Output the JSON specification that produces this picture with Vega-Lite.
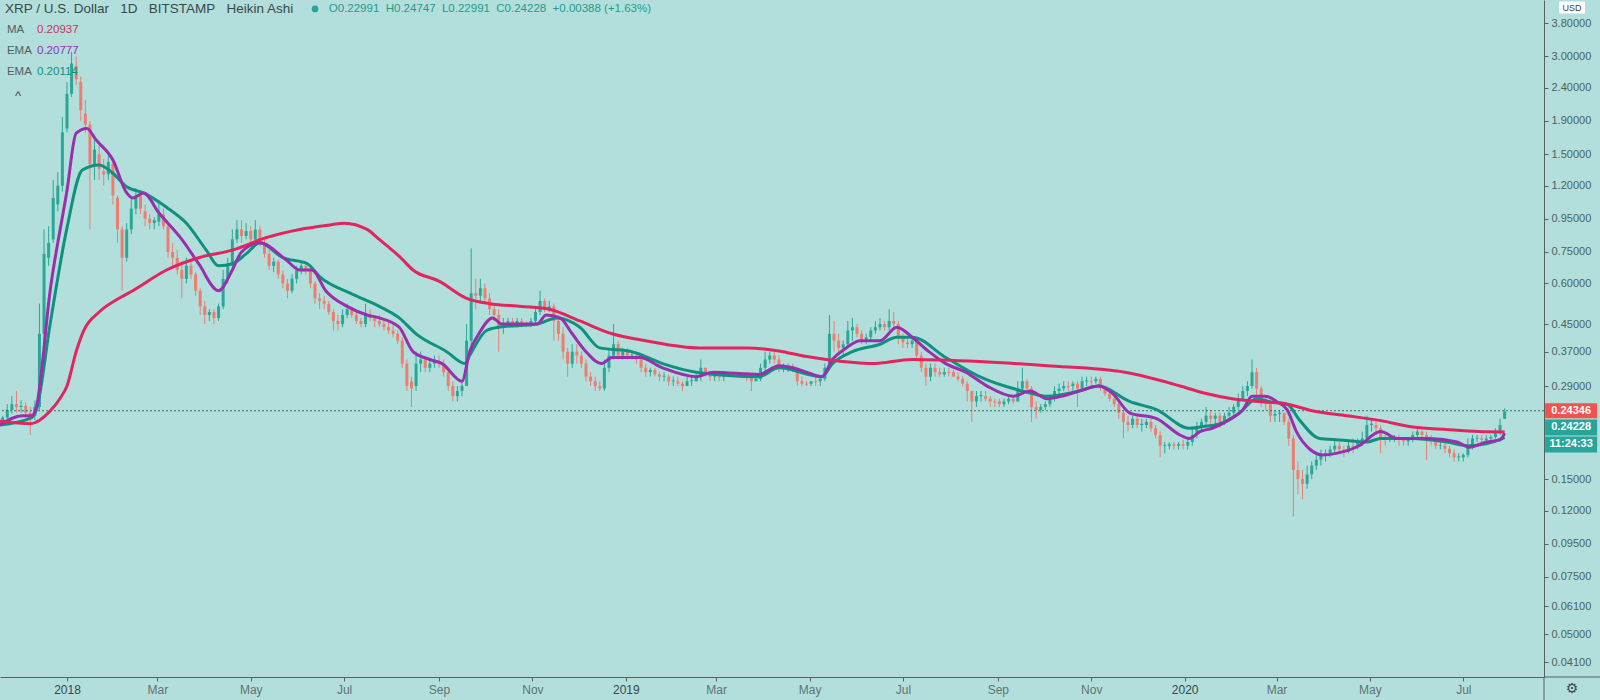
{
  "$schema": "https://vega.github.io/schema/vega-lite/v6.json",
  "description": "XRP / U.S. Dollar, 1D, Bitstamp, Heikin Ashi candles with MA and two EMAs (log price scale)",
  "width": 1544,
  "height": 677,
  "autosize": {"type": "none"},
  "padding": {"left": 0, "top": 0, "right": 56, "bottom": 23},
  "background": "#b2dfdb",
  "config": {"view": {"stroke": null}, "font": "Liberation Sans", "axis": {"grid": false}},
  "resolve": {"axis": {"x": "independent", "y": "independent"}},
  "datasets": {
    "candles": [
      {"d":"2017-11-20","o":0.225,"h":0.235,"l":0.22,"c":0.232},
      {"d":"2017-11-23","o":0.232,"h":0.255,"l":0.228,"c":0.245},
      {"d":"2017-11-26","o":0.245,"h":0.27,"l":0.238,"c":0.255},
      {"d":"2017-11-29","o":0.255,"h":0.28,"l":0.24,"c":0.25},
      {"d":"2017-12-02","o":0.25,"h":0.262,"l":0.24,"c":0.252},
      {"d":"2017-12-05","o":0.252,"h":0.258,"l":0.232,"c":0.24},
      {"d":"2017-12-08","o":0.24,"h":0.25,"l":0.205,"c":0.235},
      {"d":"2017-12-11","o":0.235,"h":0.262,"l":0.228,"c":0.25},
      {"d":"2017-12-14","o":0.25,"h":0.52,"l":0.245,"c":0.42},
      {"d":"2017-12-17","o":0.42,"h":0.88,"l":0.4,"c":0.74},
      {"d":"2017-12-20","o":0.72,"h":0.9,"l":0.68,"c":0.8},
      {"d":"2017-12-23","o":0.82,"h":1.25,"l":0.8,"c":1.1},
      {"d":"2017-12-26","o":1.05,"h":1.32,"l":1.0,"c":1.2},
      {"d":"2017-12-29","o":1.2,"h":1.95,"l":1.15,"c":1.75},
      {"d":"2018-01-01","o":1.8,"h":2.5,"l":1.75,"c":2.3},
      {"d":"2018-01-04","o":2.3,"h":3.1,"l":2.25,"c":2.85},
      {"d":"2018-01-07","o":2.8,"h":3.0,"l":2.45,"c":2.55},
      {"d":"2018-01-10","o":2.5,"h":2.6,"l":1.9,"c":2.05},
      {"d":"2018-01-13","o":2.0,"h":2.2,"l":1.75,"c":1.85},
      {"d":"2018-01-16","o":1.85,"h":1.9,"l":0.88,"c":1.4},
      {"d":"2018-01-19","o":1.4,"h":1.7,"l":1.25,"c":1.55},
      {"d":"2018-01-22","o":1.5,"h":1.65,"l":1.25,"c":1.35},
      {"d":"2018-01-25","o":1.33,"h":1.45,"l":1.2,"c":1.3},
      {"d":"2018-01-28","o":1.3,"h":1.5,"l":1.25,"c":1.42},
      {"d":"2018-01-31","o":1.4,"h":1.42,"l":1.05,"c":1.12},
      {"d":"2018-02-03","o":1.1,"h":1.12,"l":0.8,"c":0.88},
      {"d":"2018-02-06","o":0.88,"h":0.9,"l":0.57,"c":0.72},
      {"d":"2018-02-09","o":0.72,"h":0.92,"l":0.7,"c":0.88},
      {"d":"2018-02-12","o":0.88,"h":1.1,"l":0.85,"c":1.02},
      {"d":"2018-02-15","o":1.02,"h":1.18,"l":0.98,"c":1.12},
      {"d":"2018-02-18","o":1.12,"h":1.16,"l":0.98,"c":1.02},
      {"d":"2018-02-21","o":1.0,"h":1.05,"l":0.9,"c":0.95},
      {"d":"2018-02-24","o":0.95,"h":0.98,"l":0.88,"c":0.92},
      {"d":"2018-02-27","o":0.92,"h":0.96,"l":0.88,"c":0.94},
      {"d":"2018-03-02","o":0.93,"h":1.08,"l":0.9,"c":0.98},
      {"d":"2018-03-05","o":0.98,"h":1.02,"l":0.88,"c":0.9},
      {"d":"2018-03-08","o":0.9,"h":0.92,"l":0.72,"c":0.75},
      {"d":"2018-03-11","o":0.75,"h":0.8,"l":0.68,"c":0.72},
      {"d":"2018-03-14","o":0.72,"h":0.76,"l":0.64,"c":0.66},
      {"d":"2018-03-17","o":0.66,"h":0.7,"l":0.54,"c":0.62},
      {"d":"2018-03-20","o":0.62,"h":0.72,"l":0.6,"c":0.68},
      {"d":"2018-03-23","o":0.68,"h":0.7,"l":0.62,"c":0.64},
      {"d":"2018-03-26","o":0.64,"h":0.65,"l":0.55,"c":0.57},
      {"d":"2018-03-29","o":0.57,"h":0.58,"l":0.48,"c":0.51},
      {"d":"2018-04-01","o":0.51,"h":0.53,"l":0.45,"c":0.48},
      {"d":"2018-04-04","o":0.48,"h":0.5,"l":0.46,"c":0.49},
      {"d":"2018-04-07","o":0.49,"h":0.5,"l":0.45,"c":0.47},
      {"d":"2018-04-10","o":0.47,"h":0.52,"l":0.46,"c":0.51},
      {"d":"2018-04-13","o":0.51,"h":0.66,"l":0.5,"c":0.62},
      {"d":"2018-04-16","o":0.62,"h":0.72,"l":0.6,"c":0.68},
      {"d":"2018-04-19","o":0.68,"h":0.88,"l":0.66,"c":0.82},
      {"d":"2018-04-22","o":0.82,"h":0.94,"l":0.8,"c":0.88},
      {"d":"2018-04-25","o":0.88,"h":0.94,"l":0.8,"c":0.84},
      {"d":"2018-04-28","o":0.84,"h":0.92,"l":0.82,"c":0.87},
      {"d":"2018-05-01","o":0.87,"h":0.9,"l":0.8,"c":0.82},
      {"d":"2018-05-04","o":0.82,"h":0.94,"l":0.8,"c":0.88},
      {"d":"2018-05-07","o":0.88,"h":0.9,"l":0.78,"c":0.8},
      {"d":"2018-05-10","o":0.8,"h":0.82,"l":0.72,"c":0.74},
      {"d":"2018-05-13","o":0.74,"h":0.76,"l":0.66,"c":0.68},
      {"d":"2018-05-16","o":0.68,"h":0.72,"l":0.65,"c":0.7},
      {"d":"2018-05-19","o":0.7,"h":0.71,"l":0.62,"c":0.64},
      {"d":"2018-05-22","o":0.64,"h":0.66,"l":0.58,"c":0.6},
      {"d":"2018-05-25","o":0.6,"h":0.62,"l":0.54,"c":0.57},
      {"d":"2018-05-28","o":0.57,"h":0.64,"l":0.56,"c":0.62},
      {"d":"2018-05-31","o":0.62,"h":0.68,"l":0.6,"c":0.66},
      {"d":"2018-06-03","o":0.66,"h":0.7,"l":0.64,"c":0.68},
      {"d":"2018-06-06","o":0.68,"h":0.69,"l":0.64,"c":0.66},
      {"d":"2018-06-09","o":0.66,"h":0.67,"l":0.58,"c":0.6},
      {"d":"2018-06-12","o":0.6,"h":0.61,"l":0.52,"c":0.54},
      {"d":"2018-06-15","o":0.54,"h":0.56,"l":0.5,"c":0.53},
      {"d":"2018-06-18","o":0.53,"h":0.55,"l":0.5,"c":0.52},
      {"d":"2018-06-21","o":0.52,"h":0.53,"l":0.48,"c":0.49},
      {"d":"2018-06-24","o":0.49,"h":0.5,"l":0.43,"c":0.46},
      {"d":"2018-06-27","o":0.46,"h":0.48,"l":0.43,"c":0.45},
      {"d":"2018-06-30","o":0.45,"h":0.5,"l":0.44,"c":0.48},
      {"d":"2018-07-03","o":0.48,"h":0.52,"l":0.47,"c":0.5},
      {"d":"2018-07-06","o":0.5,"h":0.51,"l":0.47,"c":0.48},
      {"d":"2018-07-09","o":0.48,"h":0.49,"l":0.45,"c":0.46},
      {"d":"2018-07-12","o":0.46,"h":0.47,"l":0.44,"c":0.45},
      {"d":"2018-07-15","o":0.45,"h":0.52,"l":0.44,"c":0.48},
      {"d":"2018-07-18","o":0.48,"h":0.5,"l":0.46,"c":0.47},
      {"d":"2018-07-21","o":0.47,"h":0.48,"l":0.44,"c":0.46},
      {"d":"2018-07-24","o":0.46,"h":0.48,"l":0.44,"c":0.45},
      {"d":"2018-07-27","o":0.45,"h":0.46,"l":0.43,"c":0.44},
      {"d":"2018-07-30","o":0.44,"h":0.46,"l":0.42,"c":0.43},
      {"d":"2018-08-02","o":0.43,"h":0.45,"l":0.41,"c":0.42},
      {"d":"2018-08-05","o":0.42,"h":0.43,"l":0.39,"c":0.4},
      {"d":"2018-08-08","o":0.4,"h":0.41,"l":0.33,"c":0.34},
      {"d":"2018-08-11","o":0.34,"h":0.35,"l":0.28,"c":0.29},
      {"d":"2018-08-14","o":0.3,"h":0.31,"l":0.25,"c":0.285},
      {"d":"2018-08-17","o":0.29,"h":0.37,"l":0.28,"c":0.34},
      {"d":"2018-08-20","o":0.34,"h":0.37,"l":0.32,"c":0.35},
      {"d":"2018-08-23","o":0.35,"h":0.36,"l":0.32,"c":0.33},
      {"d":"2018-08-26","o":0.33,"h":0.35,"l":0.32,"c":0.34},
      {"d":"2018-08-29","o":0.34,"h":0.36,"l":0.33,"c":0.345},
      {"d":"2018-09-01","o":0.345,"h":0.36,"l":0.33,"c":0.34},
      {"d":"2018-09-04","o":0.34,"h":0.35,"l":0.31,"c":0.32},
      {"d":"2018-09-07","o":0.32,"h":0.33,"l":0.28,"c":0.29},
      {"d":"2018-09-10","o":0.29,"h":0.3,"l":0.26,"c":0.27},
      {"d":"2018-09-13","o":0.27,"h":0.29,"l":0.26,"c":0.28},
      {"d":"2018-09-16","o":0.28,"h":0.3,"l":0.27,"c":0.29},
      {"d":"2018-09-19","o":0.29,"h":0.45,"l":0.29,"c":0.4},
      {"d":"2018-09-22","o":0.4,"h":0.77,"l":0.38,"c":0.56},
      {"d":"2018-09-25","o":0.56,"h":0.62,"l":0.5,"c":0.55},
      {"d":"2018-09-28","o":0.55,"h":0.62,"l":0.52,"c":0.58},
      {"d":"2018-10-01","o":0.58,"h":0.6,"l":0.52,"c":0.54},
      {"d":"2018-10-04","o":0.54,"h":0.56,"l":0.48,"c":0.5},
      {"d":"2018-10-07","o":0.5,"h":0.52,"l":0.46,"c":0.48},
      {"d":"2018-10-10","o":0.48,"h":0.5,"l":0.37,"c":0.44},
      {"d":"2018-10-13","o":0.44,"h":0.47,"l":0.42,"c":0.45},
      {"d":"2018-10-16","o":0.45,"h":0.47,"l":0.44,"c":0.46},
      {"d":"2018-10-19","o":0.46,"h":0.47,"l":0.44,"c":0.45},
      {"d":"2018-10-22","o":0.45,"h":0.47,"l":0.44,"c":0.46},
      {"d":"2018-10-25","o":0.46,"h":0.47,"l":0.44,"c":0.45},
      {"d":"2018-10-28","o":0.45,"h":0.46,"l":0.44,"c":0.448},
      {"d":"2018-10-31","o":0.45,"h":0.47,"l":0.44,"c":0.46},
      {"d":"2018-11-03","o":0.46,"h":0.5,"l":0.45,"c":0.49},
      {"d":"2018-11-06","o":0.49,"h":0.57,"l":0.48,"c":0.53},
      {"d":"2018-11-09","o":0.53,"h":0.54,"l":0.49,"c":0.5},
      {"d":"2018-11-12","o":0.5,"h":0.53,"l":0.49,"c":0.51},
      {"d":"2018-11-15","o":0.51,"h":0.52,"l":0.4,"c":0.46},
      {"d":"2018-11-18","o":0.46,"h":0.48,"l":0.4,"c":0.42},
      {"d":"2018-11-21","o":0.42,"h":0.44,"l":0.35,"c":0.37},
      {"d":"2018-11-24","o":0.37,"h":0.38,"l":0.31,"c":0.34},
      {"d":"2018-11-27","o":0.34,"h":0.39,"l":0.33,"c":0.37},
      {"d":"2018-11-30","o":0.37,"h":0.39,"l":0.34,"c":0.36},
      {"d":"2018-12-03","o":0.36,"h":0.37,"l":0.33,"c":0.34},
      {"d":"2018-12-06","o":0.34,"h":0.35,"l":0.3,"c":0.31},
      {"d":"2018-12-09","o":0.31,"h":0.32,"l":0.29,"c":0.3},
      {"d":"2018-12-12","o":0.3,"h":0.31,"l":0.28,"c":0.29},
      {"d":"2018-12-15","o":0.29,"h":0.3,"l":0.28,"c":0.285},
      {"d":"2018-12-18","o":0.285,"h":0.35,"l":0.28,"c":0.33},
      {"d":"2018-12-21","o":0.33,"h":0.38,"l":0.32,"c":0.36},
      {"d":"2018-12-24","o":0.36,"h":0.45,"l":0.35,"c":0.39},
      {"d":"2018-12-27","o":0.39,"h":0.4,"l":0.35,"c":0.36},
      {"d":"2018-12-30","o":0.36,"h":0.38,"l":0.35,"c":0.37},
      {"d":"2019-01-02","o":0.37,"h":0.38,"l":0.35,"c":0.36},
      {"d":"2019-01-05","o":0.36,"h":0.37,"l":0.35,"c":0.362},
      {"d":"2019-01-08","o":0.36,"h":0.37,"l":0.34,"c":0.35},
      {"d":"2019-01-11","o":0.35,"h":0.36,"l":0.32,"c":0.33},
      {"d":"2019-01-14","o":0.33,"h":0.34,"l":0.31,"c":0.32},
      {"d":"2019-01-17","o":0.32,"h":0.33,"l":0.31,"c":0.325},
      {"d":"2019-01-20","o":0.325,"h":0.33,"l":0.31,"c":0.315},
      {"d":"2019-01-23","o":0.315,"h":0.32,"l":0.3,"c":0.31},
      {"d":"2019-01-26","o":0.31,"h":0.32,"l":0.3,"c":0.312},
      {"d":"2019-01-29","o":0.31,"h":0.315,"l":0.29,"c":0.3},
      {"d":"2019-02-01","o":0.3,"h":0.31,"l":0.29,"c":0.302},
      {"d":"2019-02-04","o":0.3,"h":0.31,"l":0.29,"c":0.295},
      {"d":"2019-02-07","o":0.295,"h":0.3,"l":0.28,"c":0.29},
      {"d":"2019-02-10","o":0.29,"h":0.31,"l":0.29,"c":0.3},
      {"d":"2019-02-13","o":0.3,"h":0.31,"l":0.29,"c":0.302},
      {"d":"2019-02-16","o":0.3,"h":0.32,"l":0.3,"c":0.31},
      {"d":"2019-02-19","o":0.31,"h":0.35,"l":0.3,"c":0.33},
      {"d":"2019-02-22","o":0.33,"h":0.33,"l":0.31,"c":0.315},
      {"d":"2019-02-25","o":0.315,"h":0.32,"l":0.3,"c":0.31},
      {"d":"2019-02-28","o":0.31,"h":0.32,"l":0.3,"c":0.312},
      {"d":"2019-03-03","o":0.31,"h":0.32,"l":0.3,"c":0.308},
      {"d":"2019-03-06","o":0.31,"h":0.32,"l":0.3,"c":0.315},
      {"d":"2019-03-09","o":0.315,"h":0.32,"l":0.31,"c":0.316},
      {"d":"2019-03-12","o":0.315,"h":0.32,"l":0.31,"c":0.31},
      {"d":"2019-03-15","o":0.31,"h":0.32,"l":0.31,"c":0.315},
      {"d":"2019-03-18","o":0.315,"h":0.32,"l":0.31,"c":0.31},
      {"d":"2019-03-21","o":0.31,"h":0.32,"l":0.3,"c":0.308},
      {"d":"2019-03-24","o":0.31,"h":0.31,"l":0.28,"c":0.3},
      {"d":"2019-03-27","o":0.3,"h":0.31,"l":0.3,"c":0.305},
      {"d":"2019-03-30","o":0.305,"h":0.34,"l":0.3,"c":0.33},
      {"d":"2019-04-02","o":0.33,"h":0.37,"l":0.32,"c":0.35},
      {"d":"2019-04-05","o":0.35,"h":0.37,"l":0.34,"c":0.36},
      {"d":"2019-04-08","o":0.36,"h":0.37,"l":0.34,"c":0.35},
      {"d":"2019-04-11","o":0.35,"h":0.36,"l":0.32,"c":0.33},
      {"d":"2019-04-14","o":0.33,"h":0.34,"l":0.32,"c":0.332},
      {"d":"2019-04-17","o":0.33,"h":0.34,"l":0.32,"c":0.335},
      {"d":"2019-04-20","o":0.335,"h":0.34,"l":0.32,"c":0.325},
      {"d":"2019-04-23","o":0.325,"h":0.33,"l":0.29,"c":0.3},
      {"d":"2019-04-26","o":0.3,"h":0.31,"l":0.29,"c":0.295},
      {"d":"2019-04-29","o":0.295,"h":0.3,"l":0.29,"c":0.293},
      {"d":"2019-05-02","o":0.295,"h":0.3,"l":0.29,"c":0.3},
      {"d":"2019-05-05","o":0.3,"h":0.31,"l":0.29,"c":0.298},
      {"d":"2019-05-08","o":0.3,"h":0.31,"l":0.29,"c":0.305},
      {"d":"2019-05-11","o":0.305,"h":0.34,"l":0.3,"c":0.33},
      {"d":"2019-05-14","o":0.33,"h":0.48,"l":0.33,"c":0.42},
      {"d":"2019-05-17","o":0.42,"h":0.46,"l":0.37,"c":0.4},
      {"d":"2019-05-20","o":0.4,"h":0.42,"l":0.36,"c":0.38},
      {"d":"2019-05-23","o":0.38,"h":0.4,"l":0.36,"c":0.39},
      {"d":"2019-05-26","o":0.39,"h":0.46,"l":0.38,"c":0.43},
      {"d":"2019-05-29","o":0.43,"h":0.47,"l":0.4,"c":0.44},
      {"d":"2019-06-01","o":0.44,"h":0.45,"l":0.41,"c":0.42},
      {"d":"2019-06-04","o":0.42,"h":0.43,"l":0.39,"c":0.4},
      {"d":"2019-06-07","o":0.4,"h":0.42,"l":0.39,"c":0.41},
      {"d":"2019-06-10","o":0.41,"h":0.44,"l":0.4,"c":0.43},
      {"d":"2019-06-13","o":0.43,"h":0.46,"l":0.42,"c":0.44},
      {"d":"2019-06-16","o":0.44,"h":0.47,"l":0.43,"c":0.45},
      {"d":"2019-06-19","o":0.45,"h":0.46,"l":0.43,"c":0.44},
      {"d":"2019-06-22","o":0.44,"h":0.5,"l":0.43,"c":0.46},
      {"d":"2019-06-25","o":0.46,"h":0.49,"l":0.44,"c":0.45},
      {"d":"2019-06-28","o":0.45,"h":0.46,"l":0.39,"c":0.41},
      {"d":"2019-07-01","o":0.41,"h":0.42,"l":0.38,"c":0.395},
      {"d":"2019-07-04","o":0.395,"h":0.41,"l":0.38,"c":0.39},
      {"d":"2019-07-07","o":0.39,"h":0.41,"l":0.38,"c":0.4},
      {"d":"2019-07-10","o":0.4,"h":0.405,"l":0.35,"c":0.36},
      {"d":"2019-07-13","o":0.36,"h":0.37,"l":0.32,"c":0.33},
      {"d":"2019-07-16","o":0.33,"h":0.34,"l":0.29,"c":0.31},
      {"d":"2019-07-19","o":0.31,"h":0.34,"l":0.3,"c":0.33},
      {"d":"2019-07-22","o":0.33,"h":0.34,"l":0.31,"c":0.32},
      {"d":"2019-07-25","o":0.32,"h":0.33,"l":0.31,"c":0.315},
      {"d":"2019-07-28","o":0.315,"h":0.33,"l":0.31,"c":0.32},
      {"d":"2019-07-31","o":0.32,"h":0.33,"l":0.31,"c":0.318},
      {"d":"2019-08-03","o":0.32,"h":0.325,"l":0.31,"c":0.31},
      {"d":"2019-08-06","o":0.31,"h":0.32,"l":0.3,"c":0.305},
      {"d":"2019-08-09","o":0.305,"h":0.31,"l":0.29,"c":0.295},
      {"d":"2019-08-12","o":0.295,"h":0.3,"l":0.26,"c":0.28},
      {"d":"2019-08-15","o":0.28,"h":0.28,"l":0.225,"c":0.26},
      {"d":"2019-08-18","o":0.26,"h":0.28,"l":0.25,"c":0.27},
      {"d":"2019-08-21","o":0.27,"h":0.28,"l":0.26,"c":0.272},
      {"d":"2019-08-24","o":0.27,"h":0.28,"l":0.26,"c":0.265},
      {"d":"2019-08-27","o":0.265,"h":0.27,"l":0.25,"c":0.26},
      {"d":"2019-08-30","o":0.26,"h":0.265,"l":0.25,"c":0.258},
      {"d":"2019-09-02","o":0.26,"h":0.265,"l":0.25,"c":0.255},
      {"d":"2019-09-05","o":0.255,"h":0.265,"l":0.25,"c":0.26},
      {"d":"2019-09-08","o":0.26,"h":0.27,"l":0.255,"c":0.265},
      {"d":"2019-09-11","o":0.265,"h":0.27,"l":0.255,"c":0.26},
      {"d":"2019-09-14","o":0.26,"h":0.3,"l":0.26,"c":0.285},
      {"d":"2019-09-17","o":0.285,"h":0.33,"l":0.28,"c":0.3},
      {"d":"2019-09-20","o":0.3,"h":0.305,"l":0.28,"c":0.285},
      {"d":"2019-09-23","o":0.285,"h":0.29,"l":0.225,"c":0.25},
      {"d":"2019-09-26","o":0.25,"h":0.26,"l":0.23,"c":0.245},
      {"d":"2019-09-29","o":0.245,"h":0.255,"l":0.24,"c":0.25},
      {"d":"2019-10-02","o":0.25,"h":0.26,"l":0.245,"c":0.255},
      {"d":"2019-10-05","o":0.255,"h":0.27,"l":0.25,"c":0.265},
      {"d":"2019-10-08","o":0.265,"h":0.29,"l":0.26,"c":0.28},
      {"d":"2019-10-11","o":0.28,"h":0.295,"l":0.27,"c":0.285},
      {"d":"2019-10-14","o":0.285,"h":0.3,"l":0.28,"c":0.29},
      {"d":"2019-10-17","o":0.29,"h":0.3,"l":0.28,"c":0.288},
      {"d":"2019-10-20","o":0.29,"h":0.3,"l":0.28,"c":0.295},
      {"d":"2019-10-23","o":0.295,"h":0.3,"l":0.25,"c":0.285},
      {"d":"2019-10-26","o":0.285,"h":0.31,"l":0.28,"c":0.3},
      {"d":"2019-10-29","o":0.3,"h":0.31,"l":0.29,"c":0.302},
      {"d":"2019-11-01","o":0.3,"h":0.31,"l":0.29,"c":0.298},
      {"d":"2019-11-04","o":0.3,"h":0.31,"l":0.295,"c":0.305},
      {"d":"2019-11-07","o":0.305,"h":0.31,"l":0.28,"c":0.29},
      {"d":"2019-11-10","o":0.29,"h":0.29,"l":0.27,"c":0.275},
      {"d":"2019-11-13","o":0.275,"h":0.28,"l":0.26,"c":0.265},
      {"d":"2019-11-16","o":0.265,"h":0.27,"l":0.25,"c":0.255},
      {"d":"2019-11-19","o":0.255,"h":0.26,"l":0.23,"c":0.24},
      {"d":"2019-11-22","o":0.24,"h":0.245,"l":0.2,"c":0.225},
      {"d":"2019-11-25","o":0.225,"h":0.235,"l":0.21,"c":0.22},
      {"d":"2019-11-28","o":0.22,"h":0.235,"l":0.215,"c":0.23},
      {"d":"2019-12-01","o":0.23,"h":0.235,"l":0.215,"c":0.22},
      {"d":"2019-12-04","o":0.22,"h":0.23,"l":0.21,"c":0.222},
      {"d":"2019-12-07","o":0.22,"h":0.23,"l":0.215,"c":0.225},
      {"d":"2019-12-10","o":0.225,"h":0.23,"l":0.21,"c":0.215},
      {"d":"2019-12-13","o":0.215,"h":0.22,"l":0.2,"c":0.205},
      {"d":"2019-12-16","o":0.205,"h":0.21,"l":0.175,"c":0.19},
      {"d":"2019-12-19","o":0.19,"h":0.195,"l":0.18,"c":0.191},
      {"d":"2019-12-22","o":0.19,"h":0.195,"l":0.185,"c":0.192},
      {"d":"2019-12-25","o":0.192,"h":0.195,"l":0.185,"c":0.19},
      {"d":"2019-12-28","o":0.19,"h":0.195,"l":0.185,"c":0.192},
      {"d":"2019-12-31","o":0.192,"h":0.198,"l":0.185,"c":0.19},
      {"d":"2020-01-03","o":0.19,"h":0.2,"l":0.185,"c":0.195},
      {"d":"2020-01-06","o":0.195,"h":0.215,"l":0.19,"c":0.205},
      {"d":"2020-01-09","o":0.205,"h":0.225,"l":0.2,"c":0.215},
      {"d":"2020-01-12","o":0.215,"h":0.23,"l":0.21,"c":0.225},
      {"d":"2020-01-15","o":0.225,"h":0.25,"l":0.22,"c":0.235},
      {"d":"2020-01-18","o":0.235,"h":0.245,"l":0.22,"c":0.23},
      {"d":"2020-01-21","o":0.23,"h":0.24,"l":0.22,"c":0.235},
      {"d":"2020-01-24","o":0.235,"h":0.24,"l":0.215,"c":0.225},
      {"d":"2020-01-27","o":0.225,"h":0.24,"l":0.22,"c":0.235},
      {"d":"2020-01-30","o":0.235,"h":0.25,"l":0.23,"c":0.24},
      {"d":"2020-02-02","o":0.24,"h":0.255,"l":0.235,"c":0.25},
      {"d":"2020-02-05","o":0.25,"h":0.275,"l":0.245,"c":0.265},
      {"d":"2020-02-08","o":0.265,"h":0.29,"l":0.26,"c":0.28},
      {"d":"2020-02-11","o":0.28,"h":0.3,"l":0.27,"c":0.29},
      {"d":"2020-02-14","o":0.29,"h":0.35,"l":0.285,"c":0.32},
      {"d":"2020-02-17","o":0.32,"h":0.33,"l":0.27,"c":0.285},
      {"d":"2020-02-20","o":0.285,"h":0.29,"l":0.25,"c":0.26},
      {"d":"2020-02-23","o":0.26,"h":0.27,"l":0.245,"c":0.255},
      {"d":"2020-02-26","o":0.255,"h":0.26,"l":0.225,"c":0.235},
      {"d":"2020-02-29","o":0.235,"h":0.245,"l":0.225,"c":0.238},
      {"d":"2020-03-03","o":0.238,"h":0.245,"l":0.225,"c":0.24},
      {"d":"2020-03-06","o":0.24,"h":0.24,"l":0.22,"c":0.225},
      {"d":"2020-03-09","o":0.225,"h":0.23,"l":0.19,"c":0.2},
      {"d":"2020-03-12","o":0.2,"h":0.205,"l":0.115,"c":0.16},
      {"d":"2020-03-15","o":0.16,"h":0.17,"l":0.135,"c":0.15},
      {"d":"2020-03-18","o":0.15,"h":0.16,"l":0.13,"c":0.145},
      {"d":"2020-03-21","o":0.145,"h":0.165,"l":0.14,"c":0.155},
      {"d":"2020-03-24","o":0.155,"h":0.17,"l":0.15,"c":0.165},
      {"d":"2020-03-27","o":0.165,"h":0.18,"l":0.16,"c":0.172},
      {"d":"2020-03-30","o":0.172,"h":0.185,"l":0.165,"c":0.178},
      {"d":"2020-04-02","o":0.178,"h":0.185,"l":0.17,"c":0.18},
      {"d":"2020-04-05","o":0.18,"h":0.19,"l":0.175,"c":0.185},
      {"d":"2020-04-08","o":0.185,"h":0.2,"l":0.18,"c":0.19},
      {"d":"2020-04-11","o":0.19,"h":0.195,"l":0.18,"c":0.185},
      {"d":"2020-04-14","o":0.185,"h":0.19,"l":0.175,"c":0.182},
      {"d":"2020-04-17","o":0.182,"h":0.195,"l":0.18,"c":0.19},
      {"d":"2020-04-20","o":0.19,"h":0.2,"l":0.18,"c":0.188},
      {"d":"2020-04-23","o":0.19,"h":0.2,"l":0.185,"c":0.195},
      {"d":"2020-04-26","o":0.195,"h":0.21,"l":0.19,"c":0.2},
      {"d":"2020-04-29","o":0.2,"h":0.235,"l":0.2,"c":0.22},
      {"d":"2020-05-02","o":0.22,"h":0.23,"l":0.21,"c":0.222},
      {"d":"2020-05-05","o":0.22,"h":0.225,"l":0.205,"c":0.215},
      {"d":"2020-05-08","o":0.215,"h":0.22,"l":0.18,"c":0.2},
      {"d":"2020-05-11","o":0.2,"h":0.205,"l":0.19,"c":0.199},
      {"d":"2020-05-14","o":0.2,"h":0.205,"l":0.195,"c":0.202},
      {"d":"2020-05-17","o":0.2,"h":0.205,"l":0.195,"c":0.201},
      {"d":"2020-05-20","o":0.2,"h":0.205,"l":0.19,"c":0.198},
      {"d":"2020-05-23","o":0.198,"h":0.2,"l":0.19,"c":0.196},
      {"d":"2020-05-26","o":0.196,"h":0.2,"l":0.19,"c":0.198},
      {"d":"2020-05-29","o":0.198,"h":0.21,"l":0.195,"c":0.205},
      {"d":"2020-06-01","o":0.205,"h":0.215,"l":0.2,"c":0.21},
      {"d":"2020-06-04","o":0.21,"h":0.212,"l":0.2,"c":0.205},
      {"d":"2020-06-07","o":0.205,"h":0.21,"l":0.172,"c":0.2},
      {"d":"2020-06-10","o":0.2,"h":0.205,"l":0.19,"c":0.196},
      {"d":"2020-06-13","o":0.196,"h":0.2,"l":0.185,"c":0.19},
      {"d":"2020-06-16","o":0.19,"h":0.195,"l":0.185,"c":0.191},
      {"d":"2020-06-19","o":0.19,"h":0.195,"l":0.18,"c":0.186},
      {"d":"2020-06-22","o":0.186,"h":0.19,"l":0.175,"c":0.18},
      {"d":"2020-06-25","o":0.18,"h":0.185,"l":0.17,"c":0.175},
      {"d":"2020-06-28","o":0.175,"h":0.18,"l":0.17,"c":0.176},
      {"d":"2020-07-01","o":0.175,"h":0.18,"l":0.17,"c":0.178},
      {"d":"2020-07-04","o":0.178,"h":0.2,"l":0.175,"c":0.19},
      {"d":"2020-07-07","o":0.19,"h":0.205,"l":0.185,"c":0.2},
      {"d":"2020-07-10","o":0.2,"h":0.205,"l":0.195,"c":0.201},
      {"d":"2020-07-13","o":0.2,"h":0.205,"l":0.195,"c":0.198},
      {"d":"2020-07-16","o":0.198,"h":0.205,"l":0.195,"c":0.2},
      {"d":"2020-07-19","o":0.2,"h":0.205,"l":0.195,"c":0.202},
      {"d":"2020-07-22","o":0.202,"h":0.215,"l":0.2,"c":0.21},
      {"d":"2020-07-25","o":0.21,"h":0.23,"l":0.205,"c":0.22},
      {"d":"2020-07-28","o":0.22991,"h":0.24747,"l":0.22991,"c":0.24228}
    ],
    "ma": [
      {"d":"2017-11-18","v":0.226},{"d":"2017-12-08","v":0.222},{"d":"2017-12-21","v":0.243},
      {"d":"2017-12-28","v":0.268},{"d":"2018-01-01","v":0.29},{"d":"2018-01-07","v":0.37},
      {"d":"2018-01-12","v":0.43},{"d":"2018-01-22","v":0.49},{"d":"2018-02-04","v":0.54},
      {"d":"2018-02-13","v":0.57},{"d":"2018-03-07","v":0.66},{"d":"2018-03-28","v":0.72},
      {"d":"2018-04-19","v":0.76},{"d":"2018-05-11","v":0.83},{"d":"2018-06-02","v":0.88},
      {"d":"2018-06-23","v":0.91},{"d":"2018-07-01","v":0.92},{"d":"2018-07-16","v":0.88},
      {"d":"2018-07-24","v":0.82},{"d":"2018-08-07","v":0.72},{"d":"2018-08-15","v":0.66},
      {"d":"2018-09-01","v":0.61},{"d":"2018-09-19","v":0.54},{"d":"2018-10-04","v":0.52},
      {"d":"2018-10-25","v":0.51},{"d":"2018-11-12","v":0.5},{"d":"2018-12-02","v":0.46},
      {"d":"2018-12-23","v":0.42},{"d":"2019-01-14","v":0.4},{"d":"2019-02-18","v":0.38},
      {"d":"2019-03-21","v":0.38},{"d":"2019-04-11","v":0.372},{"d":"2019-04-28","v":0.358},
      {"d":"2019-05-12","v":0.35},{"d":"2019-06-11","v":0.34},{"d":"2019-07-07","v":0.35},
      {"d":"2019-08-20","v":0.345},{"d":"2019-10-03","v":0.335},{"d":"2019-11-23","v":0.32},
      {"d":"2019-12-18","v":0.3},{"d":"2019-12-29","v":0.29},{"d":"2020-01-15","v":0.275},
      {"d":"2020-02-01","v":0.265},{"d":"2020-02-18","v":0.26},{"d":"2020-03-08","v":0.255},
      {"d":"2020-03-25","v":0.243},{"d":"2020-04-16","v":0.235},{"d":"2020-05-08","v":0.227},
      {"d":"2020-05-29","v":0.217},{"d":"2020-06-20","v":0.213},{"d":"2020-07-11","v":0.21},
      {"d":"2020-07-28","v":0.20937}
    ],
    "ema_fast": [
      {"d":"2017-11-18","v":0.22},{"d":"2017-12-03","v":0.235},{"d":"2017-12-09","v":0.235},
      {"d":"2017-12-12","v":0.25},{"d":"2017-12-21","v":0.57},{"d":"2018-01-01","v":1.16},
      {"d":"2018-01-07","v":1.74},{"d":"2018-01-14","v":1.8},{"d":"2018-01-20","v":1.66},
      {"d":"2018-01-31","v":1.44},{"d":"2018-02-09","v":1.14},{"d":"2018-02-13","v":1.1},
      {"d":"2018-02-20","v":1.14},{"d":"2018-03-02","v":0.99},{"d":"2018-03-17","v":0.82},
      {"d":"2018-03-28","v":0.69},{"d":"2018-04-10","v":0.57},{"d":"2018-04-19","v":0.66},
      {"d":"2018-04-25","v":0.75},{"d":"2018-05-07","v":0.8},{"d":"2018-05-24","v":0.71},
      {"d":"2018-06-02","v":0.66},{"d":"2018-06-10","v":0.66},{"d":"2018-06-19","v":0.57},
      {"d":"2018-07-03","v":0.51},{"d":"2018-07-16","v":0.48},{"d":"2018-07-24","v":0.47},
      {"d":"2018-08-06","v":0.44},{"d":"2018-08-15","v":0.37},{"d":"2018-08-26","v":0.35},
      {"d":"2018-09-03","v":0.34},{"d":"2018-09-16","v":0.3},{"d":"2018-09-21","v":0.37},
      {"d":"2018-09-27","v":0.42},{"d":"2018-10-06","v":0.47},{"d":"2018-10-12","v":0.45},
      {"d":"2018-11-04","v":0.45},{"d":"2018-11-10","v":0.48},{"d":"2018-11-19","v":0.47},
      {"d":"2018-11-27","v":0.42},{"d":"2018-12-06","v":0.37},{"d":"2018-12-16","v":0.34},
      {"d":"2018-12-23","v":0.355},{"d":"2019-01-10","v":0.355},{"d":"2019-01-25","v":0.33},
      {"d":"2019-02-16","v":0.31},{"d":"2019-02-27","v":0.32},{"d":"2019-03-29","v":0.315},
      {"d":"2019-04-11","v":0.335},{"d":"2019-04-20","v":0.33},{"d":"2019-04-29","v":0.32},
      {"d":"2019-05-09","v":0.31},{"d":"2019-05-16","v":0.35},{"d":"2019-05-25","v":0.38},
      {"d":"2019-06-03","v":0.4},{"d":"2019-06-16","v":0.4},{"d":"2019-06-27","v":0.44},
      {"d":"2019-07-07","v":0.41},{"d":"2019-07-18","v":0.37},{"d":"2019-07-29","v":0.34},
      {"d":"2019-08-11","v":0.32},{"d":"2019-08-25","v":0.29},{"d":"2019-09-11","v":0.27},
      {"d":"2019-09-22","v":0.28},{"d":"2019-10-03","v":0.265},{"d":"2019-10-13","v":0.27},
      {"d":"2019-10-24","v":0.28},{"d":"2019-11-06","v":0.29},{"d":"2019-11-15","v":0.275},
      {"d":"2019-11-26","v":0.24},{"d":"2019-12-14","v":0.23},{"d":"2019-12-29","v":0.205},
      {"d":"2020-01-04","v":0.2},{"d":"2020-01-11","v":0.21},{"d":"2020-01-19","v":0.215},
      {"d":"2020-01-30","v":0.228},{"d":"2020-02-08","v":0.245},{"d":"2020-02-14","v":0.27},
      {"d":"2020-02-23","v":0.27},{"d":"2020-03-01","v":0.26},{"d":"2020-03-08","v":0.245},
      {"d":"2020-03-14","v":0.21},{"d":"2020-03-23","v":0.185},{"d":"2020-03-31","v":0.178},
      {"d":"2020-04-09","v":0.18},{"d":"2020-04-24","v":0.19},{"d":"2020-05-08","v":0.21},
      {"d":"2020-05-19","v":0.2},{"d":"2020-06-09","v":0.2},{"d":"2020-06-27","v":0.195},
      {"d":"2020-07-05","v":0.188},{"d":"2020-07-16","v":0.195},{"d":"2020-07-25","v":0.198},
      {"d":"2020-07-28","v":0.20777}
    ],
    "ema_slow": [
      {"d":"2017-11-18","v":0.22},{"d":"2017-12-09","v":0.232},{"d":"2017-12-12","v":0.245},
      {"d":"2017-12-21","v":0.45},{"d":"2018-01-01","v":0.89},{"d":"2018-01-11","v":1.34},
      {"d":"2018-01-22","v":1.39},{"d":"2018-01-31","v":1.31},{"d":"2018-02-09","v":1.19},
      {"d":"2018-02-20","v":1.14},{"d":"2018-03-07","v":1.03},{"d":"2018-03-20","v":0.92},
      {"d":"2018-04-02","v":0.76},{"d":"2018-04-10","v":0.68},{"d":"2018-04-19","v":0.69},
      {"d":"2018-04-28","v":0.74},{"d":"2018-05-07","v":0.8},{"d":"2018-05-22","v":0.72},
      {"d":"2018-06-07","v":0.69},{"d":"2018-06-15","v":0.63},{"d":"2018-07-05","v":0.56},
      {"d":"2018-07-24","v":0.51},{"d":"2018-08-06","v":0.47},{"d":"2018-08-17","v":0.42},
      {"d":"2018-09-06","v":0.37},{"d":"2018-09-18","v":0.34},{"d":"2018-09-21","v":0.36},
      {"d":"2018-10-02","v":0.43},{"d":"2018-10-10","v":0.44},{"d":"2018-11-04","v":0.45},
      {"d":"2018-11-17","v":0.47},{"d":"2018-12-02","v":0.44},{"d":"2018-12-15","v":0.38},
      {"d":"2019-01-05","v":0.37},{"d":"2019-01-25","v":0.34},{"d":"2019-02-16","v":0.32},
      {"d":"2019-03-29","v":0.31},{"d":"2019-04-11","v":0.33},{"d":"2019-05-09","v":0.31},
      {"d":"2019-05-16","v":0.34},{"d":"2019-05-29","v":0.37},{"d":"2019-06-16","v":0.39},
      {"d":"2019-06-27","v":0.41},{"d":"2019-07-07","v":0.41},{"d":"2019-07-29","v":0.355},
      {"d":"2019-08-20","v":0.31},{"d":"2019-09-17","v":0.28},{"d":"2019-10-03","v":0.27},
      {"d":"2019-10-24","v":0.28},{"d":"2019-11-06","v":0.29},{"d":"2019-11-26","v":0.26},
      {"d":"2019-12-14","v":0.245},{"d":"2020-01-04","v":0.215},{"d":"2020-01-11","v":0.217},
      {"d":"2020-01-24","v":0.222},{"d":"2020-02-06","v":0.24},{"d":"2020-02-17","v":0.265},
      {"d":"2020-02-25","v":0.26},{"d":"2020-03-08","v":0.255},{"d":"2020-03-16","v":0.228},
      {"d":"2020-03-29","v":0.2},{"d":"2020-04-11","v":0.198},{"d":"2020-04-29","v":0.195},
      {"d":"2020-05-08","v":0.2},{"d":"2020-05-29","v":0.2},{"d":"2020-06-20","v":0.195},
      {"d":"2020-07-05","v":0.19},{"d":"2020-07-20","v":0.195},{"d":"2020-07-28","v":0.20114}
    ]
  },
  "layer": [
    {
      "data": {"name": "candles"},
      "mark": {"type": "rule", "strokeWidth": 1, "clip": true},
      "encoding": {
        "x": {
          "field": "d", "type": "temporal", "title": null,
          "scale": {"type": "utc", "nice": false, "padding": 0, "domain": [
            {"year": 2017, "month": 11, "date": 18, "hours": 6, "utc": true},
            {"year": 2020, "month": 8, "date": 22, "hours": 17, "utc": true}
          ]},
          "axis": {
            "values": [
              {"year": 2018, "month": 1, "date": 1, "utc": true},
              {"year": 2018, "month": 3, "date": 1, "utc": true},
              {"year": 2018, "month": 5, "date": 1, "utc": true},
              {"year": 2018, "month": 7, "date": 1, "utc": true},
              {"year": 2018, "month": 9, "date": 1, "utc": true},
              {"year": 2018, "month": 11, "date": 1, "utc": true},
              {"year": 2019, "month": 1, "date": 1, "utc": true},
              {"year": 2019, "month": 3, "date": 1, "utc": true},
              {"year": 2019, "month": 5, "date": 1, "utc": true},
              {"year": 2019, "month": 7, "date": 1, "utc": true},
              {"year": 2019, "month": 9, "date": 1, "utc": true},
              {"year": 2019, "month": 11, "date": 1, "utc": true},
              {"year": 2020, "month": 1, "date": 1, "utc": true},
              {"year": 2020, "month": 3, "date": 1, "utc": true},
              {"year": 2020, "month": 5, "date": 1, "utc": true},
              {"year": 2020, "month": 7, "date": 1, "utc": true}
            ],
            "labelExpr": "utcmonth(datum.value) == 0 ? utcFormat(datum.value, '%Y') : utcFormat(datum.value, '%b')",
            "labelColor": {"condition": {"test": "utcmonth(datum.value) == 0", "value": "#37474f"}, "value": "#5f7373"},
            "labelFontSize": 12,
            "labelPadding": 3,
            "tickSize": 4,
            "tickColor": "#56625f",
            "domainColor": "#56625f",
            "labelOverlap": false,
            "labelFlush": false
          }
        },
        "y": {
          "field": "l", "type": "quantitative", "title": null,
          "scale": {"type": "log", "nice": false, "padding": 0, "domain": [0.03689, 4.473]},
          "axis": {
            "orient": "right",
            "values": [3.8, 3, 2.4, 1.9, 1.5, 1.2, 0.95, 0.75, 0.6, 0.45, 0.37, 0.29, 0.15, 0.12, 0.095, 0.075, 0.061, 0.05, 0.041],
            "format": ".5f",
            "labelFontSize": 11,
            "labelColor": "#4d5f5f",
            "labelPadding": 3,
            "tickSize": 4,
            "tickColor": "#56625f",
            "domainColor": "#56625f",
            "labelOverlap": false,
            "labelFlush": false,
            "labelBound": false
          }
        },
        "y2": {"field": "h"},
        "color": {"condition": {"test": "datum.c >= datum.o", "value": "#2aa797"}, "value": "#ee7d70"}
      }
    },
    {
      "data": {"name": "candles"},
      "mark": {"type": "bar", "size": 3, "clip": true},
      "encoding": {
        "x": {"field": "d", "type": "temporal", "axis": null},
        "y": {"field": "o", "type": "quantitative", "axis": null},
        "y2": {"field": "c"},
        "color": {"condition": {"test": "datum.c >= datum.o", "value": "#2aa797"}, "value": "#ee7d70"}
      }
    },
    {
      "data": {"values": [{}]},
      "mark": {"type": "rule", "strokeDash": [2, 2], "strokeWidth": 1, "color": "#3d6e68"},
      "encoding": {"y": {"datum": 0.24346, "type": "quantitative", "axis": null}}
    },
    {
      "data": {"name": "ema_slow"},
      "mark": {"type": "line", "strokeWidth": 3, "color": "#10917f", "interpolate": "monotone", "clip": true},
      "encoding": {
        "x": {"field": "d", "type": "temporal", "axis": null},
        "y": {"field": "v", "type": "quantitative", "axis": null}
      }
    },
    {
      "data": {"name": "ema_fast"},
      "mark": {"type": "line", "strokeWidth": 3, "color": "#9a2fae", "interpolate": "monotone", "clip": true},
      "encoding": {
        "x": {"field": "d", "type": "temporal", "axis": null},
        "y": {"field": "v", "type": "quantitative", "axis": null}
      }
    },
    {
      "data": {"name": "ma"},
      "mark": {"type": "line", "strokeWidth": 3, "color": "#e0255f", "interpolate": "monotone", "clip": true},
      "encoding": {
        "x": {"field": "d", "type": "temporal", "axis": null},
        "y": {"field": "v", "type": "quantitative", "axis": null}
      }
    },
    {
      "data": {"values": [{}]},
      "mark": {"type": "rule", "strokeWidth": 1, "color": "#56625f"},
      "encoding": {
        "x": {"datum": {"year": 2020, "month": 8, "date": 22, "hours": 17, "utc": true}, "type": "temporal", "axis": null},
        "x2": {"datum": {"year": 2020, "month": 10, "date": 5, "utc": true}},
        "y": {"datum": 0.03689, "type": "quantitative", "axis": null}
      }
    },
    {
      "data": {"values": [{}]},
      "mark": {"type": "rule", "strokeWidth": 1, "color": "#56625f"},
      "encoding": {
        "x": {"datum": {"year": 2020, "month": 8, "date": 22, "hours": 17, "utc": true}, "type": "temporal", "axis": null},
        "y": {"datum": 0.03689, "type": "quantitative", "axis": null},
        "y2": {"datum": 0.0312}
      }
    },
    {
      "data": {"values": [{}]},
      "mark": {"type": "text", "align": "left", "baseline": "middle", "fontSize": 13.5, "color": "#3a4848", "text": "XRP / U.S. Dollar\u00a0\u00a0\u00a01D\u00a0\u00a0\u00a0BITSTAMP\u00a0\u00a0\u00a0Heikin Ashi"},
      "encoding": {
        "x": {"datum": {"year": 2017, "month": 11, "date": 21, "hours": 12, "utc": true}, "type": "temporal", "axis": null},
        "y": {"datum": 4.2, "type": "quantitative", "axis": null}
      }
    },
    {
      "data": {"values": [{}]},
      "mark": {"type": "circle", "size": 45, "color": "#26a69a", "opacity": 1},
      "encoding": {
        "x": {"datum": {"year": 2018, "month": 6, "date": 12, "utc": true}, "type": "temporal", "axis": null},
        "y": {"datum": 4.2, "type": "quantitative", "axis": null}
      }
    },
    {
      "data": {"values": [{}]},
      "mark": {"type": "text", "align": "left", "baseline": "middle", "fontSize": 11.5, "color": "#1e9c8c", "text": "O0.22991\u00a0\u00a0H0.24747\u00a0\u00a0L0.22991\u00a0\u00a0C0.24228\u00a0\u00a0+0.00388 (+1.63%)"},
      "encoding": {
        "x": {"datum": {"year": 2018, "month": 6, "date": 21, "utc": true}, "type": "temporal", "axis": null},
        "y": {"datum": 4.2, "type": "quantitative", "axis": null}
      }
    },
    {
      "data": {"values": [{}]},
      "mark": {"type": "text", "align": "left", "baseline": "middle", "fontSize": 11.5, "color": "#52605f", "text": "MA"},
      "encoding": {
        "x": {"datum": {"year": 2017, "month": 11, "date": 22, "hours": 19, "utc": true}, "type": "temporal", "axis": null},
        "y": {"datum": 3.62, "type": "quantitative", "axis": null}
      }
    },
    {
      "data": {"values": [{}]},
      "mark": {"type": "text", "align": "left", "baseline": "middle", "fontSize": 11.5, "color": "#d0305f", "text": "0.20937"},
      "encoding": {
        "x": {"datum": {"year": 2017, "month": 12, "date": 12, "hours": 10, "utc": true}, "type": "temporal", "axis": null},
        "y": {"datum": 3.62, "type": "quantitative", "axis": null}
      }
    },
    {
      "data": {"values": [{}]},
      "mark": {"type": "text", "align": "left", "baseline": "middle", "fontSize": 11.5, "color": "#52605f", "text": "EMA"},
      "encoding": {
        "x": {"datum": {"year": 2017, "month": 11, "date": 22, "hours": 19, "utc": true}, "type": "temporal", "axis": null},
        "y": {"datum": 3.116, "type": "quantitative", "axis": null}
      }
    },
    {
      "data": {"values": [{}]},
      "mark": {"type": "text", "align": "left", "baseline": "middle", "fontSize": 11.5, "color": "#9133b0", "text": "0.20777"},
      "encoding": {
        "x": {"datum": {"year": 2017, "month": 12, "date": 12, "hours": 10, "utc": true}, "type": "temporal", "axis": null},
        "y": {"datum": 3.116, "type": "quantitative", "axis": null}
      }
    },
    {
      "data": {"values": [{}]},
      "mark": {"type": "text", "align": "left", "baseline": "middle", "fontSize": 11.5, "color": "#52605f", "text": "EMA"},
      "encoding": {
        "x": {"datum": {"year": 2017, "month": 11, "date": 22, "hours": 19, "utc": true}, "type": "temporal", "axis": null},
        "y": {"datum": 2.685, "type": "quantitative", "axis": null}
      }
    },
    {
      "data": {"values": [{}]},
      "mark": {"type": "text", "align": "left", "baseline": "middle", "fontSize": 11.5, "color": "#11907f", "text": "0.20114"},
      "encoding": {
        "x": {"datum": {"year": 2017, "month": 12, "date": 12, "hours": 10, "utc": true}, "type": "temporal", "axis": null},
        "y": {"datum": 2.685, "type": "quantitative", "axis": null}
      }
    },
    {
      "data": {"values": [{}]},
      "mark": {"type": "text", "align": "center", "baseline": "middle", "fontSize": 13, "dy": 3, "color": "#37474f", "text": "^"},
      "encoding": {
        "x": {"datum": {"year": 2017, "month": 11, "date": 30, "utc": true}, "type": "temporal", "axis": null},
        "y": {"datum": 2.314, "type": "quantitative", "axis": null}
      }
    },
    {
      "data": {"values": [{}]},
      "mark": {"type": "tick", "orient": "horizontal", "size": 52, "thickness": 15, "color": "#ef5350", "opacity": 1},
      "encoding": {
        "x": {"datum": {"year": 2020, "month": 9, "date": 9, "hours": 10, "utc": true}, "type": "temporal", "axis": null},
        "y": {"datum": 0.24346, "type": "quantitative", "axis": null}
      }
    },
    {
      "data": {"values": [{}]},
      "mark": {"type": "text", "align": "center", "baseline": "middle", "fontSize": 11, "fontWeight": "bold", "color": "#ffffff", "text": "0.24346"},
      "encoding": {
        "x": {"datum": {"year": 2020, "month": 9, "date": 9, "hours": 10, "utc": true}, "type": "temporal", "axis": null},
        "y": {"datum": 0.24346, "type": "quantitative", "axis": null}
      }
    },
    {
      "data": {"values": [{}]},
      "mark": {"type": "tick", "orient": "horizontal", "size": 52, "thickness": 16, "yOffset": 16, "color": "#26a69a", "opacity": 1},
      "encoding": {
        "x": {"datum": {"year": 2020, "month": 9, "date": 9, "hours": 10, "utc": true}, "type": "temporal", "axis": null},
        "y": {"datum": 0.24228, "type": "quantitative", "axis": null}
      }
    },
    {
      "data": {"values": [{}]},
      "mark": {"type": "tick", "orient": "horizontal", "size": 52, "thickness": 16, "yOffset": 33, "color": "#26a69a", "opacity": 1},
      "encoding": {
        "x": {"datum": {"year": 2020, "month": 9, "date": 9, "hours": 10, "utc": true}, "type": "temporal", "axis": null},
        "y": {"datum": 0.24228, "type": "quantitative", "axis": null}
      }
    },
    {
      "data": {"values": [{}]},
      "mark": {"type": "text", "align": "center", "baseline": "middle", "fontSize": 11, "fontWeight": "bold", "dy": 16, "color": "#ffffff", "text": "0.24228"},
      "encoding": {
        "x": {"datum": {"year": 2020, "month": 9, "date": 9, "hours": 10, "utc": true}, "type": "temporal", "axis": null},
        "y": {"datum": 0.24228, "type": "quantitative", "axis": null}
      }
    },
    {
      "data": {"values": [{}]},
      "mark": {"type": "text", "align": "center", "baseline": "middle", "fontSize": 11, "fontWeight": "bold", "dy": 33, "color": "#ffffff", "text": "11:24:33"},
      "encoding": {
        "x": {"datum": {"year": 2020, "month": 9, "date": 9, "hours": 10, "utc": true}, "type": "temporal", "axis": null},
        "y": {"datum": 0.24228, "type": "quantitative", "axis": null}
      }
    },
    {
      "data": {"values": [{}]},
      "mark": {"type": "tick", "orient": "horizontal", "size": 26, "thickness": 12, "color": "#ffffff", "opacity": 1},
      "encoding": {
        "x": {"datum": {"year": 2020, "month": 9, "date": 10, "utc": true}, "type": "temporal", "axis": null},
        "y": {"datum": 4.241, "type": "quantitative", "axis": null}
      }
    },
    {
      "data": {"values": [{}]},
      "mark": {"type": "text", "align": "center", "baseline": "middle", "fontSize": 9, "color": "#37474f", "text": "USD"},
      "encoding": {
        "x": {"datum": {"year": 2020, "month": 9, "date": 10, "utc": true}, "type": "temporal", "axis": null},
        "y": {"datum": 4.241, "type": "quantitative", "axis": null}
      }
    },
    {
      "data": {"values": [{}]},
      "mark": {"type": "text", "align": "center", "baseline": "middle", "fontSize": 14, "font": "DejaVu Sans", "color": "#37474f", "text": "⚙"},
      "encoding": {
        "x": {"datum": {"year": 2020, "month": 9, "date": 10, "utc": true}, "type": "temporal", "axis": null},
        "y": {"datum": 0.03388, "type": "quantitative", "axis": null}
      }
    }
  ]
}
